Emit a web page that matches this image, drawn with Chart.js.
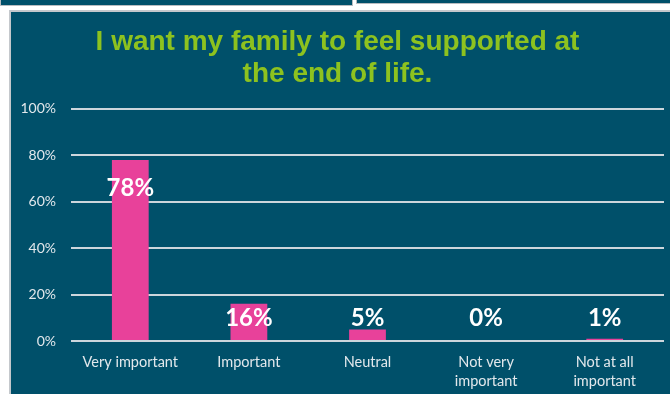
<!DOCTYPE html>
<html>
<head>
<meta charset="utf-8">
<script src="https://cdn.jsdelivr.net/npm/chart.js@4/dist/chart.umd.min.js"></script>
<style>
  html, body { margin: 0; padding: 0; background: #ffffff; width: 670px; height: 394px; overflow: hidden; }
  .strip { position: absolute; background: #00506a; border: 1px solid #b8bcc0; border-top: none; }
  #panel { position: absolute; left: 9px; top: 10px; width: 661px; height: 384px; background: #00506a;
           border-left: 2px solid #c4c8cc; border-top: 2px solid #c4c8cc; box-sizing: border-box; }
  #wrap { position: absolute; left: 0; top: 0; width: 659px; height: 382px; }
</style>
</head>
<body>
<div class="strip" style="left:0;top:0;width:351px;height:5px;"></div>
<div class="strip" style="left:356px;top:0;width:314px;height:3px;"></div>
<div id="panel"><div id="wrap"><canvas id="surveyChart"></canvas></div></div>
<script>
document.addEventListener('DOMContentLoaded', function () {
    const titleLines = ['I want my family to feel supported at', 'the end of life.'];
    const categories = ['Very important', 'Important', 'Neutral', ['Not very', 'important'], ['Not at all', 'important']];
    const percentages = [78, 16, 5, 0, 1];
    const yTicks = [0, 20, 40, 60, 80, 100];

    // white percentage labels over / inside each bar
    const valueLabels = {
        id: 'valueLabels',
        afterDatasetsDraw(chart) {
            const ctx = chart.ctx;
            const meta = chart.getDatasetMeta(0);
            const y = chart.scales.y;
            ctx.save();
            ctx.font = 'bold 24px Lato';
            ctx.fillStyle = '#ffffff';
            ctx.textAlign = 'center';
            ctx.textBaseline = 'middle';
            meta.data.forEach(function (bar, i) {
                const v = percentages[i];
                ctx.fillText(v + '%', bar.x, y.getPixelForValue(Math.max(v - 12, 10)));
            });
            ctx.restore();
        }
    };

    const canvas = document.getElementById('surveyChart');
    new Chart(canvas.getContext('2d'), {
        type: 'bar',
        data: {
            labels: categories,
            datasets: [{
                data: percentages,
                backgroundColor: '#e8419a',
                barPercentage: 0.31,
                categoryPercentage: 1
            }]
        },
        options: {
            responsive: true,
            maintainAspectRatio: false,
            animation: false,
            layout: { padding: { top: 0, right: 6, bottom: 0, left: 0 } },
            plugins: {
                legend: { display: false },
                tooltip: { enabled: false },
                title: {
                    display: true,
                    text: titleLines,
                    color: '#8dc21f',
                    font: { family: 'Liberation Sans', size: 28, weight: 'bold', lineHeight: 1.16 },
                    padding: { top: 14, bottom: 18 }
                }
            },
            scales: {
                x: {
                    grid: { display: false },
                    border: { display: false },
                    ticks: {
                        color: '#e2e8ec',
                        font: { family: 'Lato', size: 14.5, lineHeight: 1.32 },
                        padding: 4,
                        maxRotation: 0,
                        autoSkip: false
                    },
                    afterFit(scale) { scale.height = 53; }
                },
                y: {
                    min: 0,
                    max: 100,
                    border: { display: false },
                    grid: { color: '#cdd6dc', lineWidth: 2, drawTicks: false },
                    afterBuildTicks(scale) { scale.ticks = yTicks.map(v => ({ value: v })); },
                    ticks: {
                        color: '#e2e8ec',
                        font: { family: 'Lato', size: 14 },
                        padding: 15,
                        callback: v => v + '%'
                    },
                    afterFit(scale) { scale.width = 60; }
                }
            }
        },
        plugins: [valueLabels]
    });
});
</script>
</body>
</html>
